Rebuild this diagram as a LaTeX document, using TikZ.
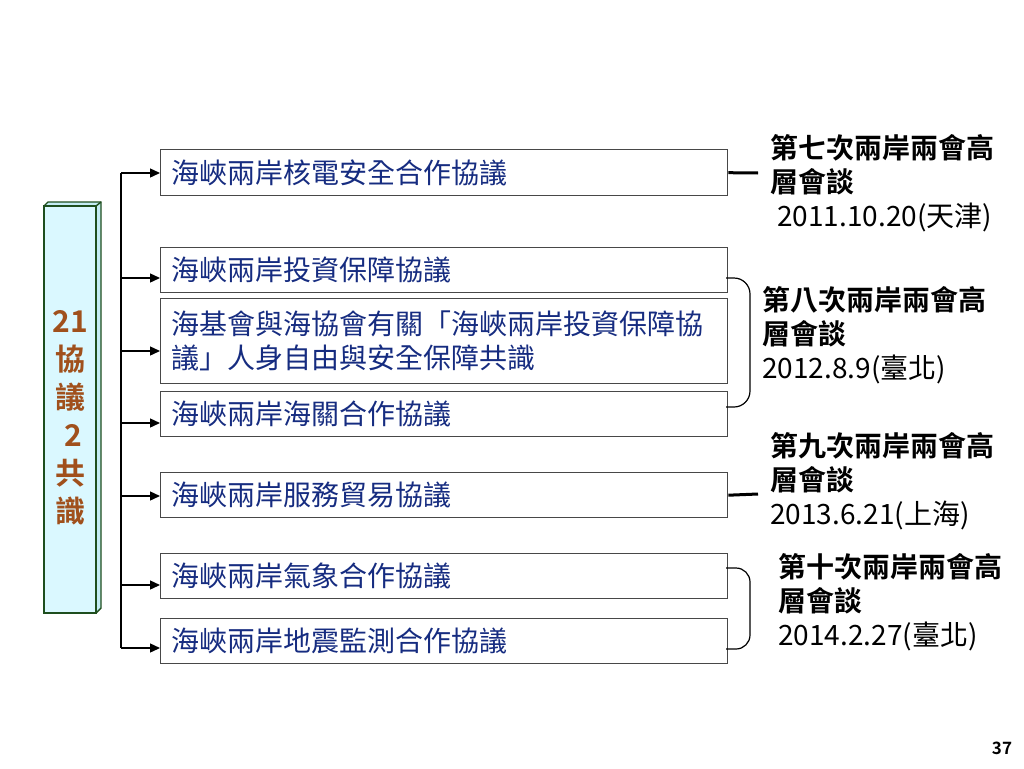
\documentclass[tikz,border=0pt]{standalone}
\usepackage{fontspec}
\setmainfont{Noto Sans CJK TC}[BoldFont={Noto Sans CJK TC Bold}]
\usetikzlibrary{arrows.meta}
\definecolor{boxtext}{RGB}{22,44,128}
\definecolor{boxline}{RGB}{72,72,72}
\definecolor{panelfill}{RGB}{218,248,255}
\definecolor{panelside}{RGB}{196,236,244}
\definecolor{panelline}{RGB}{30,78,30}
\definecolor{paneltext}{RGB}{160,80,28}
\newcommand*{\boxtextstyle}{\fontsize{28}{34}\selectfont\color{boxtext}}
\newcommand*{\talkstyle}{\fontsize{28}{34}\selectfont\color{black}}
\newcommand{\talk}[4]{%
% name, x, y, number of the talk, date
  \node[anchor=west, inner sep=0pt, align=left, font=\talkstyle] (#1) at (#2)
    {\textbf{第#3次兩岸兩會高}\\\textbf{層會談}\\#4};
}

\begin{document}
\begin{tikzpicture}[x=1pt, y=-1pt,
    agreement/.style = {draw = boxline, line width = 1.4pt, anchor = north west,
      inner xsep = 11pt, text width = 545pt, align = left, font = \boxtextstyle},
    feed/.style = {line width = 1.4pt, -{Triangle[length=10pt, width=9pt]}}]
  \useasboundingbox (0,0) rectangle (1024,768);
  % left panel
  \fill[panelside] (44,206) -- (48,202) -- (101,202) -- (101,608) -- (96,613) -- (96,206) -- cycle;
  \draw[panelline, line width=1.4pt] (44,206) -- (48,202) -- (101,202) -- (101,608) -- (96,613);
  \draw[panelline, line width=1.4pt] (96,206) -- (101,202);
  \filldraw[fill=panelfill, draw=panelline, line width=1.4pt] (44,206) rectangle (96,613);
  \node[font=\fontsize{30}{38}\selectfont\bfseries\color{paneltext}, align=center] (panel)
    at (70,418) {21\\協\\議\\\hspace{6pt}2\\共\\識};
  % agreements
  \coordinate (trunktop) at (121,173);
  \coordinate (trunkend) at (121,648);
  \draw[line width=1.4pt] (trunktop) -- (trunkend);
  \foreach \i/\top/\h/\ay/\text in {1/149/46/173/海峽兩岸核電安全合作協議,
      2/247/45/278/海峽兩岸投資保障協議,
      3/298/85/351/{海基會與海協會有關「海峽兩岸投資保障協\\議」人身自由與安全保障共識},
      4/391/45/423/海峽兩岸海關合作協議,
      5/472/45/496/海峽兩岸服務貿易協議,
      6/553/45/585/海峽兩岸氣象合作協議,
      7/618/45/648/海峽兩岸地震監測合作協議} {
    \node[agreement, minimum height=\h pt] (b\i) at (160,\top) {\text};
    \coordinate (a\i) at (121,\ay);
    \draw[feed] (a\i) -- (a\i -| b\i.west);
  }
  % talks
  \coordinate (t1) at (758,173);
  \coordinate (t3) at (758,494);
  \draw[line width=3pt] (b1.east) -- (t1);
  \draw[line width=3pt] (b5.east) -- (t3);
  \coordinate (k1) at (726,278);
  \coordinate (k2) at (726,407);
  \coordinate (k3) at (726,568);
  \coordinate (k4) at (726,649);
  \draw[line width=1.2pt, rounded corners=16pt] (k1) -- ++(24,0) |- (k2);
  \draw[line width=1.2pt, rounded corners=14pt] (k3) -- ++(24,0) |- (k4);
  \talk{talk1}{770,183}{七}{\hspace{7pt}2011.10.20(天津)}
  \talk{talk2}{762,335}{八}{2012.8.9(臺北)}
  \talk{talk3}{770,481}{九}{2013.6.21(上海)}
  \talk{talk4}{778,602}{十}{2014.2.27(臺北)}
  \node[font=\fontsize{17}{20}\selectfont\bfseries] (page) at (1002,748) {37};
\end{tikzpicture}
\end{document}
